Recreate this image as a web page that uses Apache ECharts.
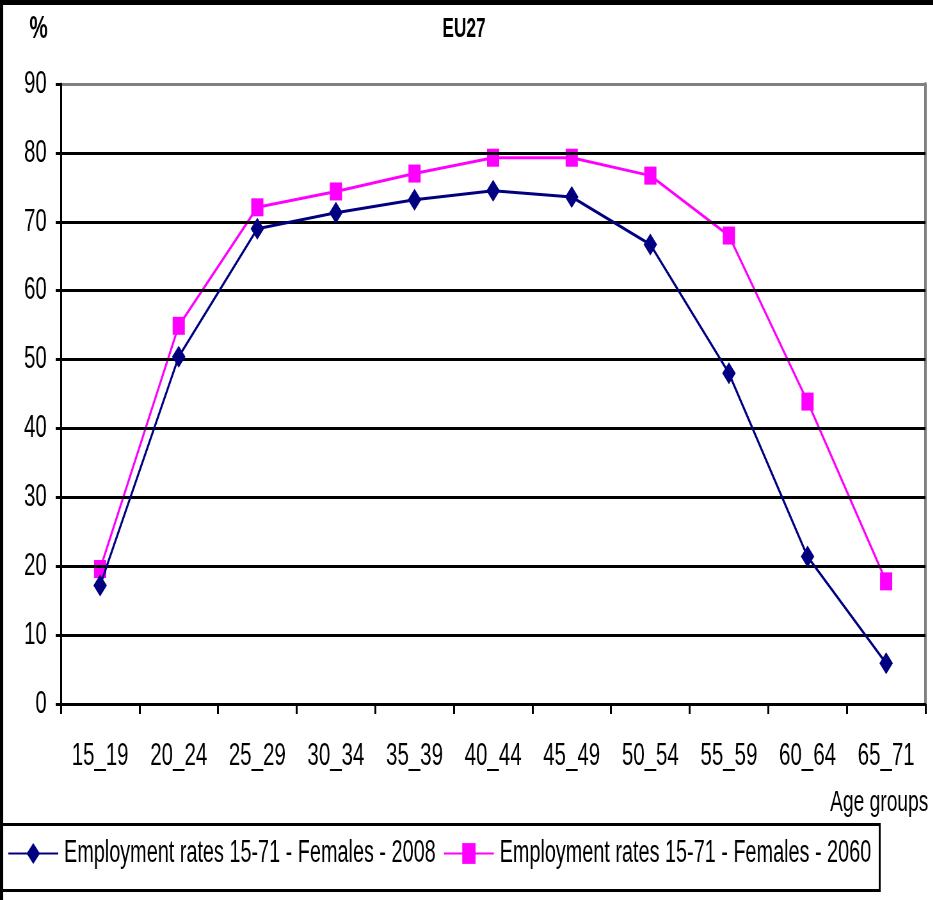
<!DOCTYPE html>
<html>
<head>
<meta charset="utf-8">
<title>EU27 – Employment rates, females</title>
<script src="https://cdn.jsdelivr.net/npm/echarts@6/dist/echarts.min.js"></script>
<style>
  html, body { margin: 0; padding: 0; background: #fff; overflow: hidden; }
  /* The chart is laid out on a wider canvas and squeezed horizontally,
     which gives the tall, narrow lettering and marks of the original figure. */
  #frame { width: 933px; height: 900px; overflow: hidden; position: relative; }
  #chart { width: 1458px; height: 900px; transform: scaleX(0.64); transform-origin: 0 0; }
</style>
</head>
<body>
<div id="frame"><div id="chart"></div></div>
<script>
// Age groups on the horizontal axis
const ageGroups = ['15_19', '20_24', '25_29', '30_34', '35_39', '40_44', '45_49', '50_54', '55_59', '60_64', '65_71'];

// Employment rates (%) of women by age group
const rates2008 = [17.2, 50.4, 69.0, 71.3, 73.2, 74.5, 73.6, 66.7, 48.0, 21.4, 5.9];
const rates2060 = [19.6, 54.9, 72.1, 74.4, 77.0, 79.3, 79.3, 76.7, 68.0, 43.9, 17.8];

const seriesNames = [
  'Employment rates 15-71 - Females - 2008',
  'Employment rates 15-71 - Females - 2060'
];

const yTicks = { min: 0, max: 90, step: 10 };

const FONT = "'Liberation Sans', Arial, Helvetica, sans-serif";

const chart = echarts.init(document.getElementById('chart'), null, { renderer: 'canvas' });

// split lines: black everywhere except the top one, which belongs to the grey plot frame
const splitColors = [];
for (let v = yTicks.min; v <= yTicks.max; v += yTicks.step) {
  splitColors.push(v === yTicks.max ? '#808080' : '#000000');
}

chart.setOption({
  backgroundColor: '#ffffff',
  animation: false,
  textStyle: { fontFamily: FONT, color: '#000' },
  title: [
    {
      text: 'EU27', left: 725, top: 16, textAlign: 'center', padding: 0,
      textStyle: { fontFamily: FONT, fontSize: 27, fontWeight: 'bold', color: '#000' }
    },
    {
      text: '%', left: 46, top: 13, padding: 0,
      textStyle: { fontFamily: FONT, fontSize: 32, fontWeight: 'bold', color: '#000' }
    },
    {
      text: 'Age groups', left: 1297, top: 788, padding: 0,
      textStyle: { fontFamily: FONT, fontSize: 30, fontWeight: 'normal', color: '#000' }
    }
  ],
  grid: {
    left: 95, right: 12, top: 84, bottom: 196, show: false
  },
  legend: {
    left: 12, top: 838, padding: 0,
    itemWidth: 78, itemHeight: 26, itemGap: 12,
    textStyle: { fontFamily: FONT, fontSize: 31, color: '#000', padding: [0, 0, 0, 4] },
    data: seriesNames
  },
  xAxis: {
    type: 'category',
    data: ageGroups,
    boundaryGap: true,
    axisLine: { lineStyle: { color: '#000', width: 3 } },
    axisTick: { show: true, interval: 0, length: 10, lineStyle: { color: '#000', width: 3 } },
    axisLabel: { interval: 0, margin: 36, fontFamily: FONT, fontSize: 32, color: '#000' },
    splitLine: { show: false }
  },
  yAxis: [
    {
      type: 'value',
      min: yTicks.min, max: yTicks.max, interval: yTicks.step,
      axisLine: { show: true, lineStyle: { color: '#000', width: 3 } },
      axisTick: { show: true, length: 8, lineStyle: { color: '#000', width: 3 } },
      axisLabel: { margin: 22, fontFamily: FONT, fontSize: 32, color: '#000' },
      splitLine: { show: true, lineStyle: { color: splitColors, width: 3 } },
      z: 3
    },
    {
      // right-hand edge of the plot frame
      type: 'value', position: 'right',
      min: yTicks.min, max: yTicks.max, interval: yTicks.step,
      axisLine: { show: true, lineStyle: { color: '#808080', width: 4 } },
      axisTick: { show: false },
      axisLabel: { show: false },
      splitLine: { show: false }
    }
  ],
  series: [
    {
      name: seriesNames[0],
      type: 'line',
      data: rates2008,
      symbol: 'diamond',
      symbolSize: [21, 22],
      lineStyle: { color: '#000080', width: 3 },
      itemStyle: { color: '#000080' },
      z: 3
    },
    {
      name: seriesNames[1],
      type: 'line',
      data: rates2060,
      symbol: 'rect',
      symbolSize: [19, 18],
      lineStyle: { color: '#FF00FF', width: 3 },
      itemStyle: { color: '#FF00FF' },
      z: 2
    }
  ],
  graphic: [
    // outer frame of the figure
    { type: 'rect', left: 0, top: 0, shape: { width: 1458, height: 5 }, style: { fill: '#000' } },
    { type: 'rect', left: 0, top: 0, shape: { width: 5, height: 900 }, style: { fill: '#000' } },
    // legend box
    {
      type: 'rect', left: 0, top: 822,
      shape: { width: 1372, height: 66 },
      style: { fill: 'none', stroke: '#000', lineWidth: 3 },
      z: -1
    }
  ]
});
</script>
</body>
</html>
